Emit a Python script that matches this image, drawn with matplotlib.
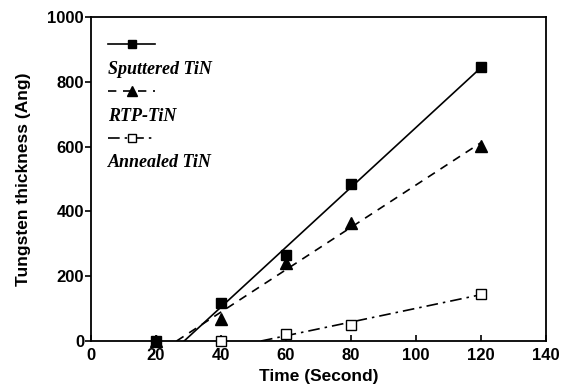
import numpy as np
import matplotlib.pyplot as plt
from matplotlib.lines import Line2D

# Data
time_s = [20, 40, 60, 80, 120]
sputtered = [0, 118, 265, 485, 845]
rtp = [0, 68, 240, 364, 601]
time_annealed = [40, 60, 80, 120]
annealed = [0, 22, 50, 146]

series = [
    ('Sputtered TiN', time_s, sputtered, 's', 'black', '-'),
    ('RTP-TiN', time_s, rtp, '^', 'black', (0, (5, 4))),
    ('Annealed TiN', time_annealed, annealed, 's', 'white', (0, (7, 3, 1.5, 3))),
]

fig = plt.figure(figsize=(5.63, 3.9), dpi=100)
ax = fig.add_axes([0.1616, 0.1256, 0.8084, 0.8308])

handles = []
labels = []
for name, x, y, mk, fc, ls in series:
    x = np.array(x, dtype=float)
    y = np.array(y, dtype=float)
    # linear fit through the non-zero points, drawn from the x intercept
    pos = y > 0
    slope, icpt = np.polyfit(x[pos], y[pos], 1)
    x0 = -icpt / slope
    xs = np.array([x0, x.max()])
    ax.plot(xs, slope * xs + icpt, color='black', lw=1.2, ls=ls, zorder=2)
    ax.plot(x, y, ls='none', marker=mk, ms=7 if mk == 's' else 8,
            mfc=fc, mec='black', mew=1.0, zorder=3, clip_on=False)
    h = Line2D([], [], color='black', lw=1.2, ls=ls, marker=mk,
               ms=6 if mk == 's' else 7, mfc=fc, mec='black', mew=1.0)
    blank = Line2D([], [], color='none')
    handles += [h, blank]
    labels += ['', name]

ax.set_xlim(0, 140)
ax.set_ylim(0, 1000)
ax.set_xticks(range(0, 141, 20))
ax.set_yticks(range(0, 1001, 200))
ax.tick_params(axis='x', direction='in', length=4, width=1.2, pad=5)
ax.tick_params(axis='y', direction='out', length=4, width=1.2, pad=1)
for lab in ax.get_xticklabels() + ax.get_yticklabels():
    lab.set_fontweight('bold')
    lab.set_fontsize(12)
    lab.set_family('Liberation Sans')
for sp in ax.spines.values():
    sp.set_linewidth(1.3)

ax.set_xlabel('Time (Second)', fontsize=12.5, fontweight='bold',
              family='Liberation Sans', labelpad=4)
ax.set_ylabel('Tungsten thickness (Ang)', fontsize=12.5, fontweight='bold',
              family='Liberation Sans', labelpad=12)

leg = ax.legend(handles, labels, loc='upper left', frameon=False,
                handlelength=2.6, handletextpad=-2.6, labelspacing=0.35,
                borderaxespad=0.3, bbox_to_anchor=(0.01, 0.975),
                prop={'family': 'Liberation Serif', 'weight': 'bold',
                      'style': 'italic', 'size': 13})

fig.savefig('out.png', dpi=100)
